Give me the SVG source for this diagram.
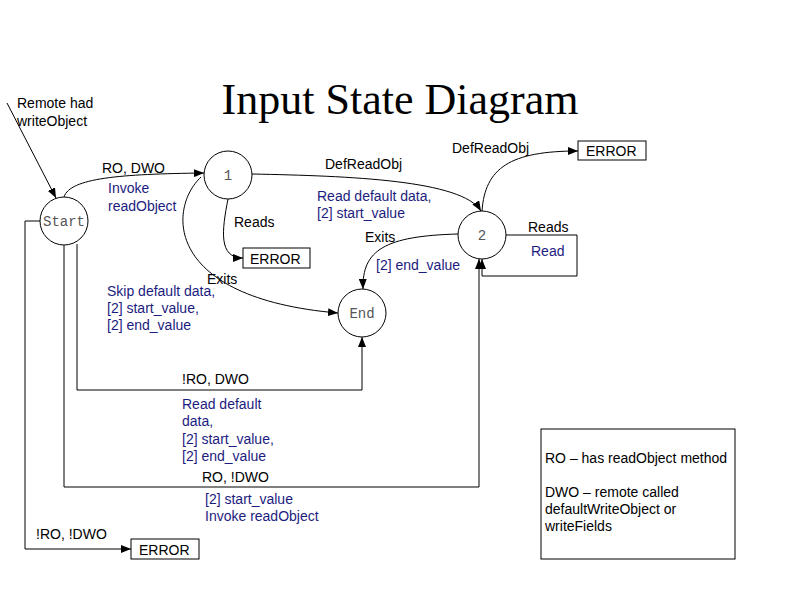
<svg xmlns="http://www.w3.org/2000/svg" width="800" height="600" viewBox="0 0 800 600">
<style>
text{font-family:"Liberation Sans",Arial,sans-serif;font-size:14px;fill:#000}
.n{fill:#1c1c80}
.st{fill:#fff;stroke:#000;stroke-width:1}
.sl{font-family:"Liberation Mono","Courier New",monospace;font-size:14px;fill:#555;text-anchor:middle}
.box{fill:#fff;stroke:#000;stroke-width:1}
.e{fill:none;stroke:#000;stroke-width:1;marker-end:url(#ah)}
.title{font-family:"Liberation Serif","Times New Roman",serif;font-size:44px;text-anchor:middle}
</style>
<defs>
<marker id="ah" viewBox="0 0 10 8" refX="10" refY="4" markerWidth="10" markerHeight="8" markerUnits="userSpaceOnUse" orient="auto">
<path d="M0,0 L10,4 L0,8 z" fill="#000"/>
</marker>
</defs>
<rect width="800" height="600" fill="#fff"/>
<text class="title" x="400" y="114">Input State Diagram</text>

<g id="connectors">
<path class="e" d="M7,103 L56,198"/>
<path class="e" d="M64,197 C70,178 120,174 204,173"/>
<path class="e" d="M252,174 C350,176 462,180 481,211"/>
<path class="e" d="M228,199 C222,230 218,258 243,258"/>
<path class="e" d="M201,177 C168,208 163,298 338,313"/>
<path class="e" d="M458,234 C385,236 362,250 363,289"/>
<path class="e" d="M482,211 C485,168 510,151 578,151"/>
<path class="e" d="M506,235 L577,235 L577,276 L482,276 L482,259"/>
<path class="e" d="M77,244 L77,390 L362,390 L362,337"/>
<path class="e" d="M64,245 L64,487 L479,487 L479,259"/>
<path class="e" d="M40,221 L25,221 L25,549 L131,549"/>
</g>

<g id="labels">
<text x="17" y="108">Remote had</text>
<text x="17" y="126">writeObject</text>
<text x="102" y="173">RO, DWO</text>
<text class="n" x="108" y="193">Invoke</text>
<text class="n" x="108" y="211">readObject</text>
<text x="325" y="169">DefReadObj</text>
<text class="n" x="317" y="201">Read default data,</text>
<text class="n" x="317" y="218">[2] start_value</text>
<text x="234" y="227">Reads</text>
<text x="207" y="284">Exits</text>
<text class="n" x="107" y="296">Skip default data,</text>
<text class="n" x="107" y="313">[2] start_value,</text>
<text class="n" x="107" y="330">[2] end_value</text>
<text x="365" y="242">Exits</text>
<text class="n" x="376" y="270">[2] end_value</text>
<text x="452" y="153">DefReadObj</text>
<text x="528" y="232">Reads</text>
<text class="n" x="531" y="256">Read</text>
<text x="182" y="384">!RO, DWO</text>
<text class="n" x="182" y="409">Read default</text>
<text class="n" x="182" y="426">data,</text>
<text class="n" x="182" y="444">[2] start_value,</text>
<text class="n" x="182" y="461">[2] end_value</text>
<text x="202" y="482">RO, !DWO</text>
<text class="n" x="205" y="504">[2] start_value</text>
<text class="n" x="205" y="521">Invoke readObject</text>
<text x="36" y="539">!RO, !DWO</text>
</g>

<g id="start"><circle class="st" cx="64" cy="221" r="24"/><text class="sl" x="64" y="226">Start</text></g>
<g id="s1"><circle class="st" cx="228" cy="175" r="24"/><text class="sl" x="228" y="180">1</text></g>
<g id="s2"><circle class="st" cx="482" cy="235" r="24"/><text class="sl" x="482" y="240">2</text></g>
<g id="end"><circle class="st" cx="362" cy="313" r="24"/><text class="sl" x="362" y="318">End</text></g>

<g id="error1"><rect class="box" x="243" y="248" width="67" height="20"/><text x="250" y="264">ERROR</text></g>
<g id="error2"><rect class="box" x="578" y="141" width="68" height="19"/><text x="586" y="156">ERROR</text></g>
<g id="error3"><rect class="box" x="131" y="539" width="68" height="20"/><text x="139" y="555">ERROR</text></g>

<g id="legend">
<rect class="box" x="541" y="429" width="194" height="130"/>
<text x="545" y="463">RO – has readObject method</text>
<text x="545" y="497">DWO – remote called</text>
<text x="545" y="514">defaultWriteObject or</text>
<text x="545" y="531">writeFields</text>
</g>
</svg>
